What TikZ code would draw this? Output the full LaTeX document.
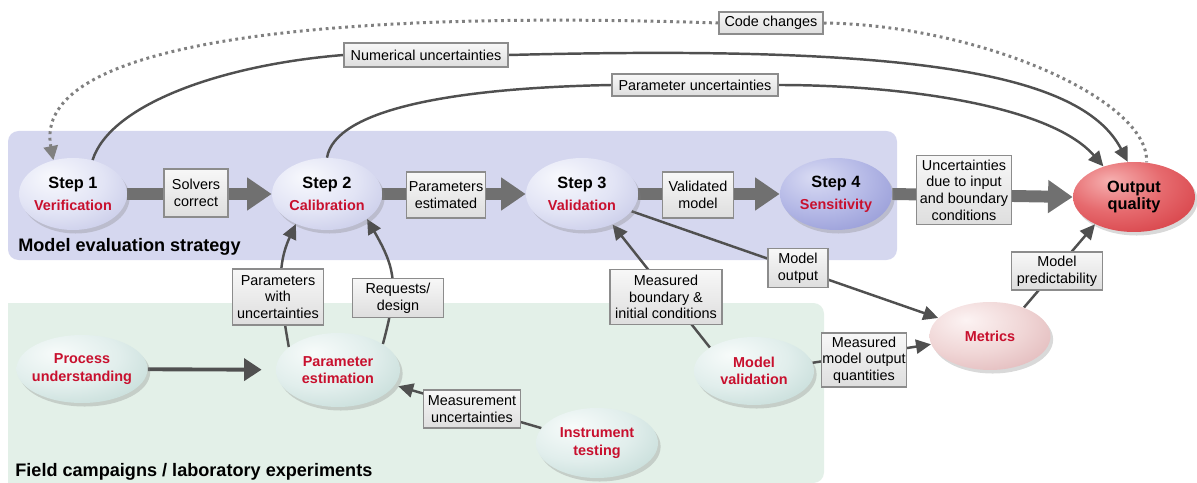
\documentclass[tikz,border=0pt]{standalone}
\usepackage{fontspec}
\setmainfont{Liberation Sans}
\usetikzlibrary{arrows.meta,shapes.geometric,shadows}
\definecolor{tred}{HTML}{C8102E}
\definecolor{lnk}{HTML}{505050}
\definecolor{bar}{HTML}{707070}
\definecolor{bandblue}{HTML}{D5D7EF}
\definecolor{bandgreen}{HTML}{E3F0E8}
\definecolor{boxline}{HTML}{8C8C8C}
% step colours
\definecolor{sa1}{HTML}{F8F9FD}\definecolor{sa2}{HTML}{E2E4F5}\definecolor{sa3}{HTML}{BFC2E4}\definecolor{sa4}{HTML}{8E92CC}
\definecolor{sb1}{HTML}{D9DBF3}\definecolor{sb2}{HTML}{B4B8E6}\definecolor{sb3}{HTML}{8D92D2}\definecolor{sb4}{HTML}{5E63B5}
\definecolor{so1}{HTML}{F6B0B0}\definecolor{so2}{HTML}{E66A6E}\definecolor{so3}{HTML}{D2343B}\definecolor{so4}{HTML}{A8101A}
\definecolor{sm1}{HTML}{FCF3F3}\definecolor{sm2}{HTML}{F0D6D6}\definecolor{sm3}{HTML}{DDB0B2}\definecolor{sm4}{HTML}{B98285}
\definecolor{sf1}{HTML}{F7FBFA}\definecolor{sf2}{HTML}{E1EEEC}\definecolor{sf3}{HTML}{BCD6D2}\definecolor{sf4}{HTML}{86AAA5}
\pgfdeclareradialshading{shA}{\pgfpoint{-10bp}{12bp}}{color(0bp)=(sa1);color(22bp)=(sa2);color(45bp)=(sa3);color(64bp)=(sa4);color(100bp)=(sa4)}
\pgfdeclareradialshading{shB}{\pgfpoint{-10bp}{12bp}}{color(0bp)=(sb1);color(22bp)=(sb2);color(45bp)=(sb3);color(64bp)=(sb4);color(100bp)=(sb4)}
\pgfdeclareradialshading{shO}{\pgfpoint{-10bp}{12bp}}{color(0bp)=(so1);color(20bp)=(so2);color(45bp)=(so3);color(64bp)=(so4);color(100bp)=(so4)}
\pgfdeclareradialshading{shM}{\pgfpoint{-10bp}{12bp}}{color(0bp)=(sm1);color(22bp)=(sm2);color(45bp)=(sm3);color(64bp)=(sm4);color(100bp)=(sm4)}
\pgfdeclareradialshading{shF}{\pgfpoint{-10bp}{12bp}}{color(0bp)=(sf1);color(22bp)=(sf2);color(45bp)=(sf3);color(64bp)=(sf4);color(100bp)=(sf4)}
\newcommand\zb[1]{\makebox[0pt][c]{#1}}
\pgfdeclarelayer{bands}
\pgfdeclarelayer{links}
\pgfsetlayers{bands,links,main}
\tikzset{
  ball/.style={ellipse, inner sep=0pt, align=center, shading=#1,
    drop shadow={shadow xshift=1.5pt, shadow yshift=-2pt, opacity=0.3},
    font=\bfseries\fontsize{8.2}{10}\selectfont},
  stepnode/.style={ball=#1, font=\bfseries\fontsize{8.2}{12.5}\selectfont},
  lbl/.style={draw=boxline, line width=0.8pt, top color=gray!6, bottom color=gray!26,
    inner sep=0pt, align=center, font=\fontsize{8.2}{9.5}\selectfont},
  conn/.style={draw=lnk, line width=1.4pt, -{Triangle[length=8.5pt,width=8pt]}},
  conntwo/.style={draw=lnk, line width=2.2pt, -{Triangle[length=10pt,width=12.5pt]}},
  bigarr/.style={draw=bar, line width=6.8pt, -{Triangle[length=14pt,width=18pt]}},
  dotline/.style={draw=gray, line width=1.7pt, dash pattern=on 1.6pt off 2.1pt},
  bandtext/.style={anchor=base west, inner sep=0pt, font=\bfseries\fontsize{10.3}{12}\selectfont}
}
\begin{document}
\begin{tikzpicture}[x=0.02cm, y=0.02cm]
\useasboundingbox (0,0) rectangle (1197,-483);
\begin{pgfonlayer}{bands}
  \fill[bandblue, rounded corners=6pt] (8,-131) rectangle (897,-260);
  \fill[bandgreen, rounded corners=6pt] (8,-303) -- (824,-303) -- (824,-483) [sharp corners] -- (8,-483) -- cycle;
\end{pgfonlayer}
\node[bandtext] (mes) at (18,-251) {Model evaluation strategy};
\node[bandtext] (fcl) at (15,-476) {Field campaigns / laboratory experiments};

% ellipses
\node[stepnode=shA, minimum width=2.16cm, minimum height=1.44cm] (s1) at (73,-194)
  {\zb{\fontsize{9.3}{10}\selectfont Step 1}\\\zb{\color{tred}Verification}};
\node[stepnode=shA, minimum width=2.20cm, minimum height=1.44cm] (s2) at (327,-194)
  {\zb{\fontsize{9.3}{10}\selectfont Step 2}\\\zb{\color{tred}Calibration}};
\node[stepnode=shA, minimum width=2.24cm, minimum height=1.44cm] (s3) at (582,-194)
  {\zb{\fontsize{9.3}{10}\selectfont Step 3}\\\zb{\color{tred}Validation}};
\node[stepnode=shB, minimum width=2.24cm, minimum height=1.44cm] (s4) at (836,-194)
  {\zb{\fontsize{9.3}{10}\selectfont Step 4}\\\zb{\color{tred}Sensitivity}};
\node[ball=shO, minimum width=2.44cm, minimum height=1.40cm, font=\bfseries\fontsize{9.3}{10.2}\selectfont] (out) at (1134,-197)
  {\zb{Output}\\\zb{quality}};
\node[ball=shF, minimum width=2.62cm, minimum height=1.36cm, text=tred] (proc) at (82,-369)
  {\zb{Process}\\\zb{understanding}};
\node[ball=shF, minimum width=2.48cm, minimum height=1.48cm, text=tred] (pest) at (338,-370)
  {\zb{Parameter}\\\zb{estimation}};
\node[ball=shF, minimum width=2.44cm, minimum height=1.40cm, text=tred] (inst) at (597,-443)
  {\zb{Instrument}\\\zb{testing}};
\node[ball=shF, minimum width=2.40cm, minimum height=1.36cm, text=tred] (mval) at (754,-371)
  {\zb{Model}\\\zb{validation}};
\node[ball=shM, minimum width=2.42cm, minimum height=1.36cm, text=tred] (met) at (990,-336)
  {\zb{Metrics}};

% label boxes
\node[lbl, minimum width=2.08cm, minimum height=0.44cm] (code) at (771,-23) {Code changes};
\node[lbl, minimum width=3.28cm, minimum height=0.48cm] (numu) at (426,-55) {Numerical uncertainties};
\node[lbl, minimum width=3.32cm, minimum height=0.44cm] (paru) at (695,-85) {Parameter uncertainties};
\node[lbl, minimum width=1.28cm, minimum height=0.96cm] (solv) at (196,-193) {Solvers\\correct};
\node[lbl, minimum width=1.58cm, minimum height=0.92cm] (pe) at (446,-195) {Parameters\\estimated};
\node[lbl, minimum width=1.42cm, minimum height=0.92cm] (valm) at (698,-195) {Validated\\model};
\node[lbl, minimum width=1.90cm, minimum height=1.38cm] (unc) at (964,-190) {Uncertainties\\due to input\\and boundary\\conditions};
\node[lbl, minimum width=1.82cm, minimum height=1.12cm] (pwu) at (278,-297) {Parameters\\with\\uncertainties};
\node[lbl, minimum width=1.82cm, minimum height=0.78cm] (req) at (398,-298) {Requests/\\design};
\node[lbl, minimum width=2.24cm, minimum height=1.10cm] (mbc) at (666,-297) {Measured\\boundary \&\\initial conditions};
\node[lbl, minimum width=1.20cm, minimum height=0.78cm] (mout) at (798,-268) {Model\\output};
\node[lbl, minimum width=1.70cm, minimum height=1.08cm] (mmoq) at (864,-360) {Measured\\model output\\quantities};
\node[lbl, minimum width=1.82cm, minimum height=0.76cm] (mpred) at (1057,-271) {Model\\predictability};
\node[lbl, minimum width=1.94cm, minimum height=0.76cm] (meas) at (472,-409) {Measurement\\uncertainties};

\begin{pgfonlayer}{links}
  % main chain
  \draw[bigarr] (s1.east) -- (s2.west);
  \draw[bigarr] (s2.east) -- (s3.west);
  \draw[bigarr] (s3.east) -- (s4.west);
  \draw[bigarr] (s4.east) -- (out.west);
  % top feedback curves
  \draw[dotline] (code.east) .. controls (980,-25) and (1150,-100) .. (out.70);
  \draw[dotline, -{Triangle[length=8pt,width=8pt]}] (code.west) .. controls (330,-10) and (30,-40) .. (s1.120);
  \draw[draw=lnk, line width=1.4pt] (s1.60) .. controls (110,-105) and (220,-65) .. (numu.west);
  \draw[conn] (numu.east) .. controls (900,-45) and (1080,-70) .. (out.100);
  \draw[draw=lnk, line width=1.4pt] (s2.north) .. controls (335,-110) and (450,-88) .. (paru.west);
  \draw[conn] (paru.east) .. controls (900,-85) and (1050,-105) .. (out.135);
  % field campaigns
  \draw[conntwo, shorten >=8pt] (proc) -- (pest);
  \draw[conn] (pest.155) to[out=100,in=-115] (s2.224);
  \draw[conn] (pest.30) to[out=75,in=-60,looseness=1.2] (s2.-32);
  \draw[conn, shorten >=2pt] (inst.165) -- (pest.-15);
  \draw[conn] (mval.152) -- (s3.-45);
  \draw[conn] (s3) -- (met);
  \draw[conn] (mval.8) -- (met.188);
  \draw[conn] (met.40) -- (out.-145);
\end{pgfonlayer}
\end{tikzpicture}
\end{document}
